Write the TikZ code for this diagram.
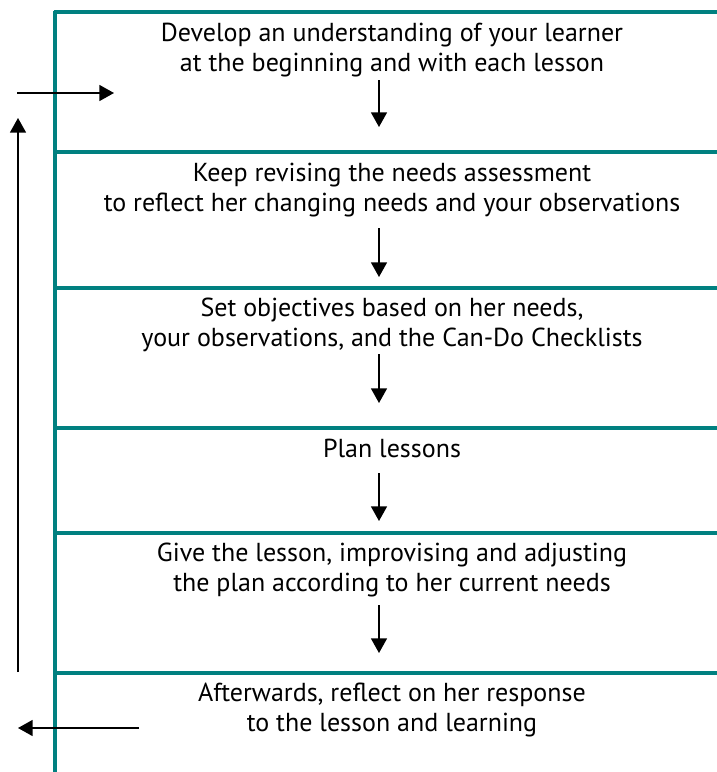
\documentclass[tikz,border=0pt]{standalone}
\usepackage{fontspec}
\setmainfont{PT Sans}
\usetikzlibrary{arrows.meta}
\definecolor{bandteal}{RGB}{0,128,128}

\begin{document}
\begin{tikzpicture}[x=0.75pt,y=0.75pt,yscale=-1,xscale=1,
    rule/.style={draw=bandteal, line width=3pt},
    flow/.style={draw=black, line width=1.2pt, -{Triangle[width=12pt,length=11pt]}},
    stage/.style={anchor=base, inner sep=0pt, align=center, font=\fontsize{19.5}{22}\selectfont}]
    \useasboundingbox (0,0) rectangle (717,772);

    %Frame: vertical rule and band separators
    \draw [rule] (55,11) -- (55,772);
    \foreach \y in {12,152,288,428,533,673}
        \draw [rule] (53.5,\y) -- (717,\y);

    % Text Nodes (base = last line)
    \node [stage] (develop) at (392,71) {Develop an understanding of your learner\\at the beginning and with each lesson};
    \node [stage] (revise) at (392,211) {Keep revising the needs assessment\\to reflect her changing needs and your observations};
    \node [stage] (objectives) at (392,346) {Set objectives based on her needs,\\your observations, and the Can-Do Checklists};
    \node [stage] (plan) at (392,457) {Plan lessons};
    \node [stage] (give) at (392,591) {Give the lesson, improvising and adjusting\\the plan according to her current needs};
    \node [stage] (reflect) at (392,731) {Afterwards, reflect on her response\\to the lesson and learning};

    %Down arrows inside the bands
    \foreach \n/\ya/\yb in {1/80/127,2/228/277,3/354/403,4/473/521,5/605/653}{
        \coordinate (s\n) at (379,\ya);
        \coordinate (e\n) at (379,\yb);
        \draw [flow] (s\n) -- (e\n);
    }

    %Loop back on the left
    \coordinate (inStart) at (17,93);
    \coordinate (inEnd) at (114,93);
    \coordinate (loopBottom) at (18,672);
    \coordinate (loopTop) at (18,118);
    \coordinate (outStart) at (139,728);
    \coordinate (outEnd) at (18,728);
    \draw [flow] (inStart) -- (inEnd);
    \draw [flow] (loopBottom) -- (loopTop);
    \draw [flow] (outStart) -- (outEnd);

\end{tikzpicture}
\end{document}
